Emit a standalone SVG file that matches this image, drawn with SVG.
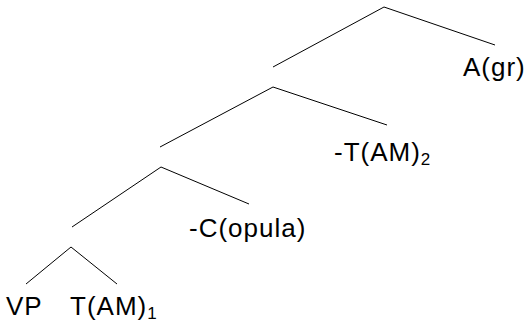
<svg xmlns="http://www.w3.org/2000/svg" width="526" height="322" viewBox="0 0 526 322">
  <style>
    .edge { stroke: #000; stroke-width: 1; fill: none; }
    .lbl { font-family: "Liberation Sans", Arial, sans-serif; font-size: 26px; letter-spacing: 1px; fill: #000; }
    .sub { font-size: 17px; }
  </style>
  <rect width="526" height="322" fill="#fff"/>
  <g id="connectors">
    <polyline class="edge" points="273,67 384,7 495,45"/>
    <polyline class="edge" points="160,147 273,87 387,125"/>
    <polyline class="edge" points="72,227 161,167 249,204"/>
    <polyline class="edge" points="26,284 71,247 117,284"/>
  </g>
  <g id="node-agr"><text class="lbl" x="463" y="76">A(gr)</text></g>
  <g id="node-tam2"><text class="lbl" x="334" y="161">-T(AM)<tspan class="sub" dy="4">2</tspan></text></g>
  <g id="node-copula"><text class="lbl" x="189" y="237">-C(opula)</text></g>
  <g id="node-vp"><text class="lbl" x="6" y="315">VP</text></g>
  <g id="node-tam1"><text class="lbl" x="70" y="315">T(AM)<tspan class="sub" dy="4">1</tspan></text></g>
</svg>
